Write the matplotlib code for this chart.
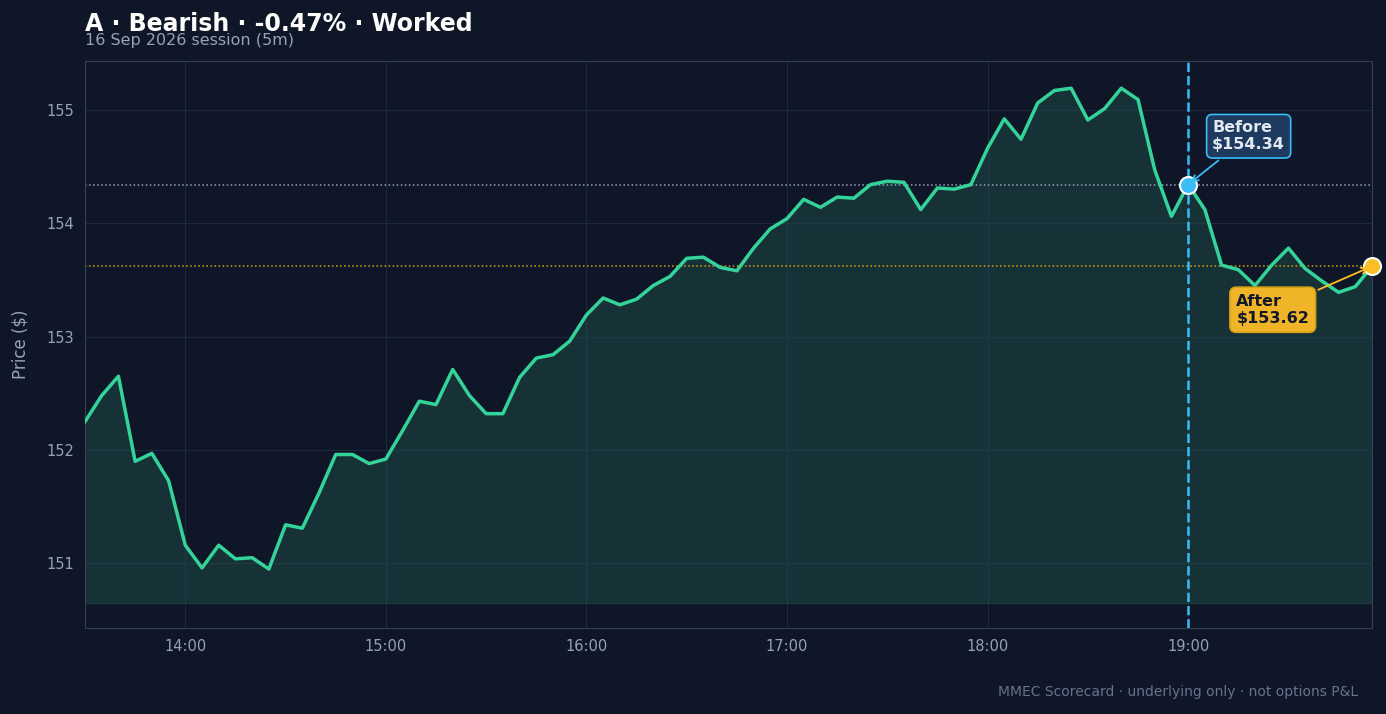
import matplotlib.pyplot as plt
import numpy as np

# 5-minute closes, 13:30 -> 19:55
start_hour = 13.5
prices = [152.25, 152.48, 152.65, 151.90, 151.97, 151.73, 151.16, 150.96, 151.16, 151.04,
          151.05, 150.95, 151.34, 151.31, 151.62, 151.96, 151.96, 151.88, 151.92, 152.17,
          152.43, 152.40, 152.71, 152.48, 152.32, 152.32, 152.64, 152.81, 152.84, 152.96,
          153.19, 153.34, 153.28, 153.33, 153.45, 153.53, 153.69, 153.70, 153.61, 153.58,
          153.78, 153.95, 154.04, 154.21, 154.14, 154.23, 154.22, 154.34, 154.37, 154.36,
          154.12, 154.31, 154.30, 154.34, 154.66, 154.92, 154.74, 155.06, 155.17, 155.19,
          154.91, 155.01, 155.19, 155.09, 154.47, 154.06, 154.34, 154.12, 153.63, 153.59,
          153.45, 153.63, 153.78, 153.60, 153.49, 153.39, 153.44, 153.62]
event_hour = 19.0
before_price = 154.34
after_price = 153.62
tick_hours = [14, 15, 16, 17, 18, 19]
tick_labels = ['14:00', '15:00', '16:00', '17:00', '18:00', '19:00']

hours = start_hour + np.arange(len(prices)) / 12.0

bg = '#0e1628'
fig = plt.figure(figsize=(13.86, 7.14), dpi=100, facecolor=bg)
ax = fig.add_axes([85/1386, 1 - 628/714, (1372-85)/1386, (628-61)/714], facecolor=bg)

ax.plot(hours, prices, color='#34d399', lw=2.5, zorder=3)
floor = 150.65
ax.fill_between(hours, prices, floor, color='#1f4a45', alpha=0.55, zorder=2)

ax.axvline(event_hour, color='#38bdf8', ls='--', lw=1.8, zorder=4)
ax.axhline(before_price, color='#94a3b8', ls=':', lw=1.1, zorder=2)
ax.axhline(after_price, color='#d4a017', ls=':', lw=1.1, zorder=2)

ax.scatter([event_hour], [before_price], s=150, color='#38bdf8', edgecolor='white', lw=1.5, zorder=6)
ax.scatter([hours[-1]], [after_price], s=150, color='#fbbf24', edgecolor='white', lw=1.5, zorder=6, clip_on=False)

ax.annotate(f'Before\n${before_price:.2f}', xy=(event_hour, before_price),
            xytext=(event_hour + 0.12, 154.65), color='#e2e8f0', fontsize=11.5, fontweight='bold',
            bbox=dict(boxstyle='round,pad=0.35', fc='#1e3a5f', ec='#38bdf8', lw=1.2),
            arrowprops=dict(arrowstyle='->', color='#38bdf8', lw=1.3), zorder=7)
ax.annotate(f'After\n${after_price:.2f}', xy=(hours[-1], after_price),
            xytext=(19.24, 153.12), color='#111827', fontsize=11.5, fontweight='bold',
            bbox=dict(boxstyle='round,pad=0.4', fc='#f0b429', ec='#d4a017', lw=1.2),
            arrowprops=dict(arrowstyle='->', color='#fbbf24', lw=1.3), zorder=7)

ax.set_xlim(hours[0], hours[-1])
ax.set_ylim(150.43, 155.43)
ax.set_xticks(tick_hours)
ax.set_xticklabels(tick_labels)
ax.set_yticks([151, 152, 153, 154, 155])
ax.tick_params(colors='#94a3b8', labelsize=10.5, length=0, pad=8)
ax.grid(color='#1e293b', lw=0.8, zorder=0)
for s in ax.spines.values():
    s.set_color('#334155')
ax.set_ylabel('Price ($)', color='#94a3b8', fontsize=12, labelpad=12)

fig.text(85/1386, 1 - 24/714, 'A · Bearish · -0.47% · Worked', color='white',
         fontsize=17, fontweight='bold', va='center')
fig.text(85/1386, 1 - 40/714, '16 Sep 2026 session (5m)', color='#94a3b8', fontsize=11.5, va='center')
fig.text(1358/1386, 1 - 692/714, 'MMEC Scorecard · underlying only · not options P&L',
         color='#64748b', fontsize=10, ha='right', va='center')

fig.savefig('out.png', dpi=100, facecolor=bg)
